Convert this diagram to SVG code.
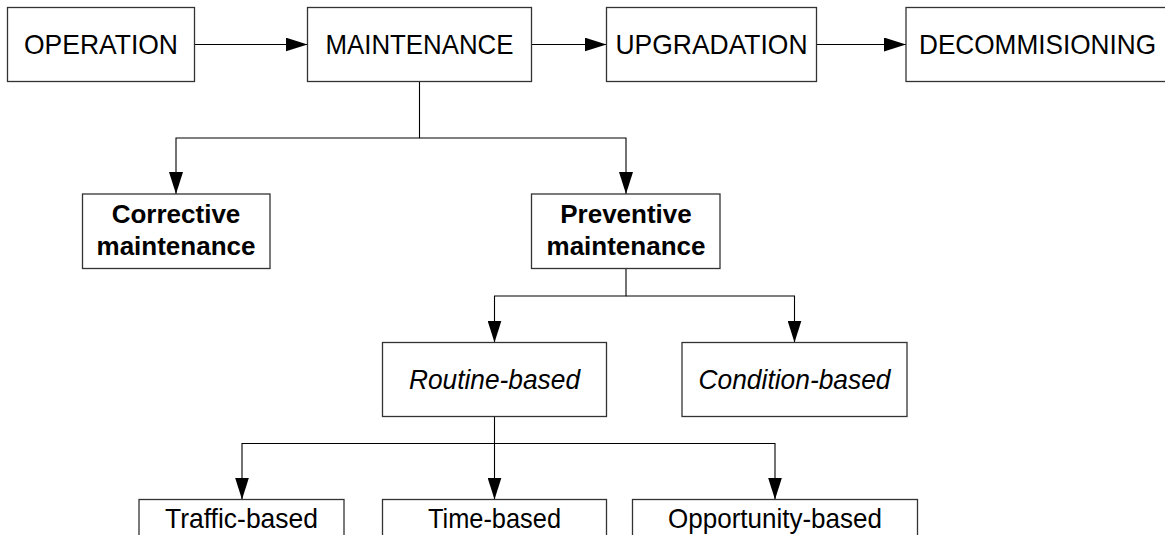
<svg xmlns="http://www.w3.org/2000/svg" width="1165" height="535" viewBox="0 0 1165 535">
  <defs>
    <marker id="arr" markerUnits="userSpaceOnUse" markerWidth="22" markerHeight="14" refX="22" refY="7" orient="auto">
      <path d="M0,0 L22,7 L0,14 Z" fill="#000"/>
    </marker>
    <style>
      .box { fill: #fff; stroke: #333; stroke-width: 1.3; }
      .t { font-family: "Liberation Sans", Arial, Helvetica, sans-serif; font-size: 26px; fill: #000; text-anchor: middle; }
      .n { font-size: 27.5px; }
      .b { font-weight: bold; }
      .i { font-style: italic; }
      .c { fill: none; stroke: #000; stroke-width: 1.1; marker-end: url(#arr); }
    </style>
  </defs>
  <rect width="1165" height="535" fill="#fff"/>

  <g id="connectors">
    <path class="c" d="M194.5,44.5 H307.5"/>
    <path class="c" d="M531.5,44.5 H606.5"/>
    <path class="c" d="M816.5,44.5 H906"/>
    <path class="c" d="M419.5,81.5 V138 H176 V194"/>
    <path class="c" d="M419.5,138 H626 V194"/>
    <path class="c" d="M626,268.5 V296 H494.5 V342.5"/>
    <path class="c" d="M626,296 H794.5 V342.5"/>
    <path class="c" d="M494.5,416.5 V443.5 H242 V499.5"/>
    <path class="c" d="M494.5,443.5 V499.5"/>
    <path class="c" d="M494.5,443.5 H775 V499.5"/>
  </g>

  <g id="operation">
    <rect class="box" x="7.5" y="7.5" width="187" height="74"/>
    <text class="t n" x="101" y="54" textLength="154" lengthAdjust="spacingAndGlyphs">OPERATION</text>
  </g>
  <g id="maintenance">
    <rect class="box" x="307.5" y="7.5" width="224" height="74"/>
    <text class="t n" x="419.5" y="54" textLength="188" lengthAdjust="spacingAndGlyphs">MAINTENANCE</text>
  </g>
  <g id="upgradation">
    <rect class="box" x="606.5" y="7.5" width="210" height="74"/>
    <text class="t n" x="711.5" y="54" textLength="192" lengthAdjust="spacingAndGlyphs">UPGRADATION</text>
  </g>
  <g id="decommisioning">
    <rect class="box" x="906" y="7.5" width="264" height="74"/>
    <text class="t n" x="1037.5" y="54" textLength="237" lengthAdjust="spacingAndGlyphs">DECOMMISIONING</text>
  </g>

  <g id="corrective">
    <rect class="box" x="82.5" y="194" width="187.5" height="74.5"/>
    <text class="t b" x="176" y="223">Corrective</text>
    <text class="t b" x="176" y="255">maintenance</text>
  </g>
  <g id="preventive">
    <rect class="box" x="531.5" y="194" width="188.5" height="74.5"/>
    <text class="t b" x="626" y="223">Preventive</text>
    <text class="t b" x="626" y="255">maintenance</text>
  </g>

  <g id="routine">
    <rect class="box" x="382.5" y="342.5" width="224" height="74"/>
    <text class="t i n" x="494.5" y="389" textLength="171" lengthAdjust="spacingAndGlyphs">Routine-based</text>
  </g>
  <g id="condition">
    <rect class="box" x="682" y="342.5" width="225" height="74"/>
    <text class="t i n" x="794.5" y="389" textLength="192" lengthAdjust="spacingAndGlyphs">Condition-based</text>
  </g>

  <g id="traffic">
    <rect class="box" x="139" y="499.5" width="205" height="74"/>
    <text class="t n" x="241.5" y="528" textLength="153" lengthAdjust="spacingAndGlyphs">Traffic-based</text>
  </g>
  <g id="time">
    <rect class="box" x="382.5" y="499.5" width="224" height="74"/>
    <text class="t n" x="494.5" y="528" textLength="133" lengthAdjust="spacingAndGlyphs">Time-based</text>
  </g>
  <g id="opportunity">
    <rect class="box" x="632.5" y="499.5" width="285" height="74"/>
    <text class="t n" x="775" y="528" textLength="214" lengthAdjust="spacingAndGlyphs">Opportunity-based</text>
  </g>
</svg>
